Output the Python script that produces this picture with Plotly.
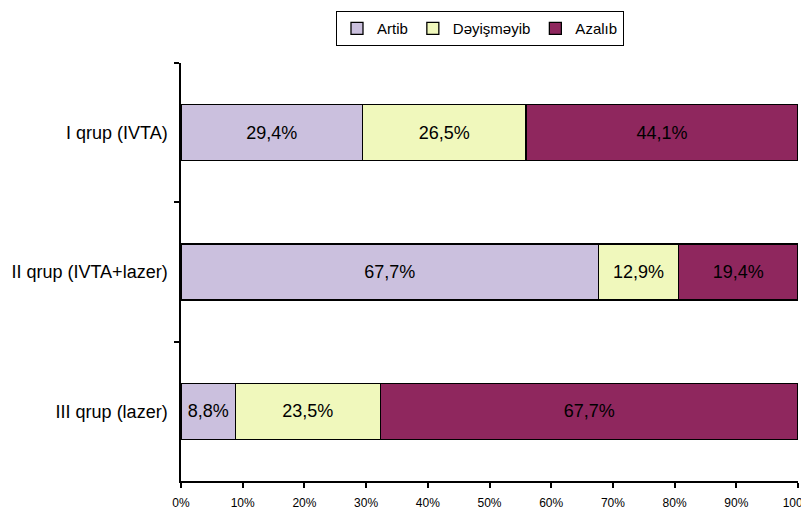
import plotly.graph_objects as go

groups = ["I qrup (IVTA)", "II qrup (IVTA+lazer)", "III qrup (lazer)"]
series_names = ["Artib", "Dəyişməyib", "Azalıb"]
artib = [29.4, 67.7, 8.8]
deyismeyib = [26.5, 12.9, 23.5]
azalib = [44.1, 19.4, 67.7]
colors = ["#CBC0DE", "#F0F8BC", "#8F275E"]
x_ticks = [0, 10, 20, 30, 40, 50, 60, 70, 80, 90, 100]
x_tick_labels = [f"{v}%" for v in x_ticks]

def fmt(v):
    return f"{v:.1f}".replace(".", ",") + "%"

fig = go.Figure()
for name, vals, col in zip(series_names, [artib, deyismeyib, azalib], colors):
    fig.add_trace(go.Bar(
        y=groups, x=vals, name=name, orientation="h",
        marker=dict(color=col, line=dict(color="black", width=1.3)),
        text=[fmt(v) for v in vals], textposition="inside",
        insidetextanchor="middle", textangle=0,
        textfont=dict(color="black", size=18, family="Liberation Sans, Arial"),
        width=0.4, hoverinfo="skip",
    ))

fig.update_layout(
    barmode="stack",
    width=809, height=512,
    margin=dict(l=173, r=19, t=55, b=39, autoexpand=False),
    paper_bgcolor="white", plot_bgcolor="white",
    font=dict(family="Liberation Sans, Arial", color="black", size=18),
    showlegend=True,
    legend=dict(
        orientation="h", x=0.4846, xanchor="center", y=1.082, yanchor="middle",
        bordercolor="black", borderwidth=1, font=dict(size=15),
        traceorder="normal", itemwidth=30, tracegroupgap=0,
    ),
    uniformtext=dict(mode="show", minsize=8),
)
fig.update_xaxes(
    range=[0, 100], tickvals=x_ticks, ticktext=x_tick_labels,
    showgrid=False, zeroline=False, showline=True, linecolor="black", linewidth=1.5,
    ticks="outside", ticklen=5, tickcolor="black", tickwidth=1.5, tickfont=dict(size=12),
    ticklabelstandoff=5, fixedrange=True, automargin=False,
)
fig.update_yaxes(
    categoryorder="array", categoryarray=groups, autorange="reversed",
    showgrid=False, showline=True, linecolor="black", linewidth=1.5,
    ticks="outside", ticklen=5, tickcolor="black", tickwidth=1.5, tickson="boundaries",
    tickfont=dict(size=18), ticklabelstandoff=8, automargin=False,
)

fig.write_html("out.html")
